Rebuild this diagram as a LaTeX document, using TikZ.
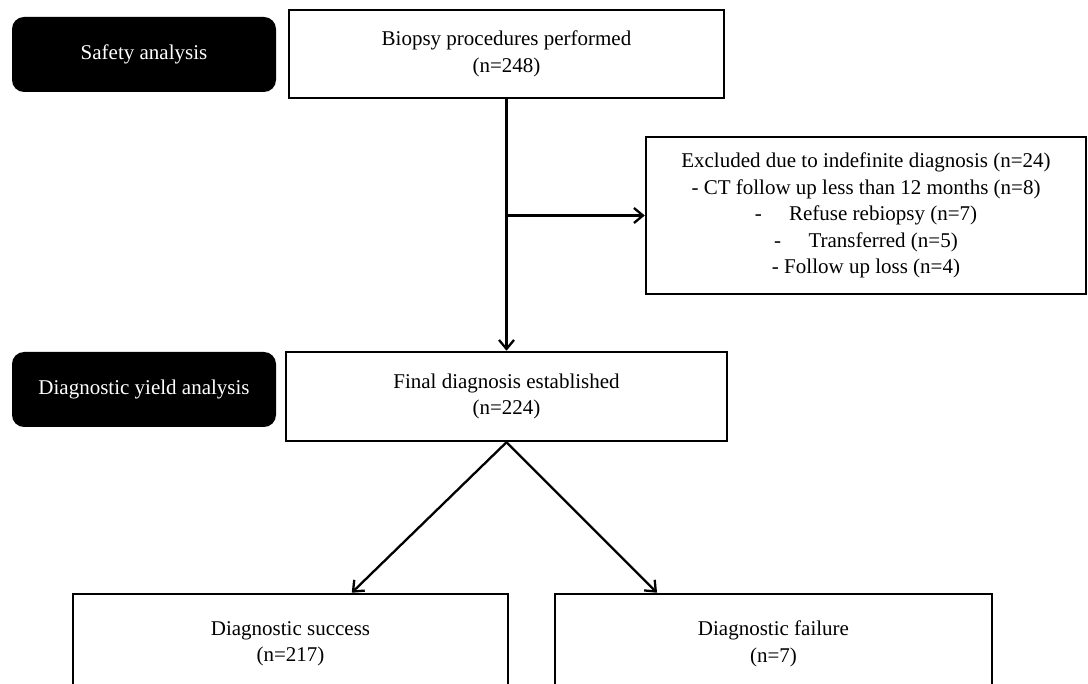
\documentclass[tikz,border=0pt]{standalone}
\usepackage{fontspec}
\setmainfont{Liberation Serif}
\usetikzlibrary{arrows.meta,calc}

\tikzset{
	box/.style={draw, line width=2.5pt, align=center, inner sep=0pt, font=\fontsize{21}{26.5}\selectfont},
	tag/.style={fill=black, text=white, rounded corners=12pt, inner sep=0pt, minimum width=264pt, minimum height=75pt, font=\fontsize{21}{26}\selectfont},
	arr/.style={-{Straight Barb[length=9pt,width=15pt]}, line width=2.3pt}
}

\begin{document}
\begin{tikzpicture}[x=1pt, y=-1pt]
		\path[use as bounding box, clip] (0,0) rectangle (1088,684);

		% left labels
		\node[tag] (safety) at (144,54.5) {Safety analysis};
		\node[tag] (yield) at (144,389.5) {Diagnostic yield analysis};

		% boxes
		\node[box, minimum width=435pt, minimum height=88pt] (biopsy) at (506.5,54) {Biopsy procedures performed\\(n=248)};
		\node[box, minimum width=440pt, minimum height=157pt] (excl) at (866,215.5) {Excluded due to indefinite diagnosis (n=24)\\- CT follow up less than 12 months (n=8)\\-\hspace{1.3em}Refuse rebiopsy (n=7)\\-\hspace{1.3em}Transferred (n=5)\\- Follow up loss (n=4)};
		\node[box, minimum width=441pt, minimum height=89pt] (final) at (506.5,396.5) {Final diagnosis established\\(n=224)};
		\node[box, minimum width=435pt, minimum height=100pt] (success) at (290.5,644) {Diagnostic success\\(n=217)};
		\node[box, minimum width=437pt, minimum height=100pt] (failure) at (773.5,644) {Diagnostic failure\\(n=7)};

		% arrows
		\draw[arr] (biopsy.south) -- (final.north);
		\draw[arr] (biopsy.south |- excl.west) -- (excl.west);
		\draw[arr] (final.south) -- ($(success.north west)!0.64!(success.north east)$);
		\draw[arr] (final.south) -- ($(failure.north west)!0.235!(failure.north east)$);
	\end{tikzpicture}
\end{document}
